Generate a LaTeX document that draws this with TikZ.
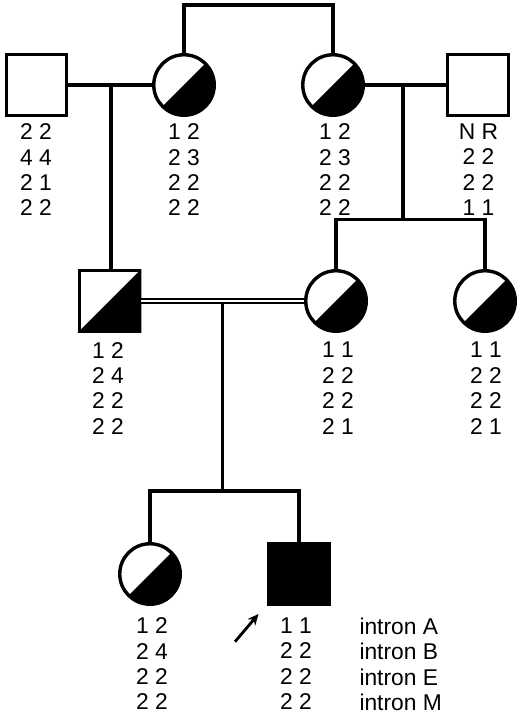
\documentclass[tikz,border=0pt]{standalone}
\usepackage{fontspec}
\setmainfont{Liberation Sans}
\usetikzlibrary{arrows.meta}
\begin{document}
\begin{tikzpicture}[x=1pt,y=1pt,
  ln/.style={line width=3.2pt},
  male/.style={draw, rectangle, line width=3.4pt, minimum size=60.5pt, inner sep=0pt, fill=white},
  fem/.style={draw, circle, line width=3.4pt, minimum size=60.5pt, inner sep=0pt, fill=white},
  gt/.style={font=\fontsize{22.8}{25.4}\selectfont, align=center, inner sep=0pt, anchor=north},
  lab/.style={font=\fontsize{22.8}{25.4}\selectfont, align=left, inner sep=0pt, anchor=north west},
]
\useasboundingbox (0,0) rectangle (520,715);
% symbols
\node[male] (gf1) at (36.5,630) {};
\node[fem]  (gm1) at (184,630) {};
\node[fem]  (gm2) at (333,630) {};
\node[male] (gf2) at (478,630) {};
\node[male] (fa) at (109.5,414) {};
\node[fem]  (mo) at (336,414) {};
\node[fem]  (au) at (485,414) {};
\node[fem]  (da) at (150,141) {};
\node[male, fill=black] (pb) at (299,141) {};
% half fills
\foreach \n in {gm1,gm2,mo,au,da}{
  \fill (\n.center) ++(45:31.5) arc[start angle=45,end angle=-135,radius=31.5] -- cycle;
}
\fill (fa.south west) -- (fa.north east) -- (fa.south east) -- cycle;
% connectors
\coordinate (sibtop) at (0,710);
\draw[ln] (gm1.north) -- (gm1.north |- sibtop) -- (gm2.north |- sibtop) -- (gm2.north);
\draw[ln] (gf1.east) -- (gm1.west);
\coordinate (d1) at (111,630);
\draw[ln] (d1) -- (d1 |- fa.north);
\draw[ln] (gm2.east) -- (gf2.west);
\coordinate (d2) at (403,630);
\coordinate (s2) at (403,495.5);
\draw[ln] (d2) -- (s2);
\draw[ln] (mo.north) -- (mo.north |- s2) -- (au.north |- s2) -- (au.north);
\draw[line width=2pt, double, double distance=2.4pt] (fa.east) -- (mo.west);
\coordinate (d3) at (222.7,411);
\coordinate (s3) at (222.7,224);
\draw[ln] (d3) -- (s3);
\draw[ln] (da.north) -- (da.north |- s3) -- (pb.north |- s3) -- (pb.north);
% arrow
\coordinate (a0) at (235,73.3);
\coordinate (a1) at (258.5,101);
\draw[line width=2.8pt, -{Stealth[length=11pt,width=10pt]}] (a0) -- (a1);
% genotypes
\node[gt] (t1) at (36,591.5) {2 2\\4 4\\2 1\\2 2};
\node[gt] (t2) at (184,591.5) {1 2\\2 3\\2 2\\2 2};
\node[gt] (t3) at (335,591.5) {1 2\\2 3\\2 2\\2 2};
\node[gt] (t4) at (478.5,591.5) {N R\\2 2\\2 2\\1 1};
\node[gt] (t5) at (108,373) {1 2\\2 4\\2 2\\2 2};
\node[gt] (t6) at (338,373) {1 1\\2 2\\2 2\\2 1};
\node[gt] (t7) at (486,373) {1 1\\2 2\\2 2\\2 1};
\node[gt] (t8) at (152,97.5) {1 2\\2 4\\2 2\\2 2};
\node[gt] (t9) at (296,97.5) {1 1\\2 2\\2 2\\2 2};
\node[lab] (t10) at (359.3,97.5) {intron A\\intron B\\intron E\\intron M};
\end{tikzpicture}
\end{document}
